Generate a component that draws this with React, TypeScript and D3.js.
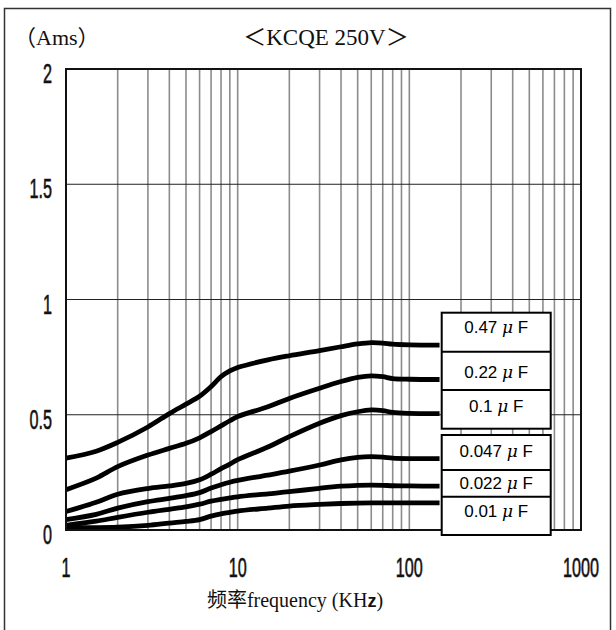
import React from 'react';
import * as d3 from 'd3';

// frequency points (kHz)
const freqs = [1, 1.5, 2, 3, 4, 5, 6, 7, 8, 9, 10, 15, 20, 30, 40, 50, 60, 70, 80, 100, 150];

// current (A rms) per capacitance
const cap047 = [0.312, 0.342, 0.38, 0.447, 0.505, 0.546, 0.58, 0.622, 0.665, 0.69, 0.705, 0.738, 0.756, 0.778, 0.795, 0.807, 0.813, 0.811, 0.806, 0.803, 0.802];
const cap022 = [0.175, 0.225, 0.275, 0.325, 0.354, 0.376, 0.4, 0.427, 0.452, 0.474, 0.492, 0.535, 0.571, 0.615, 0.644, 0.662, 0.669, 0.665, 0.657, 0.654, 0.653];
const cap01 = [0.08, 0.12, 0.155, 0.18, 0.191, 0.202, 0.218, 0.242, 0.266, 0.286, 0.305, 0.36, 0.405, 0.463, 0.496, 0.513, 0.521, 0.518, 0.51, 0.506, 0.505];
const cap0047 = [0.045, 0.068, 0.095, 0.123, 0.137, 0.149, 0.162, 0.182, 0.196, 0.207, 0.215, 0.238, 0.255, 0.282, 0.304, 0.315, 0.318, 0.316, 0.312, 0.31, 0.31];
const cap0022 = [0.02, 0.038, 0.055, 0.077, 0.09, 0.1, 0.112, 0.125, 0.133, 0.139, 0.144, 0.157, 0.166, 0.181, 0.19, 0.194, 0.195, 0.194, 0.192, 0.191, 0.19];
const cap001 = [0.01, 0.01, 0.012, 0.02, 0.03, 0.037, 0.045, 0.06, 0.07, 0.076, 0.082, 0.095, 0.104, 0.111, 0.115, 0.117, 0.118, 0.118, 0.118, 0.118, 0.118];

const seriesValues = [cap047, cap022, cap01, cap0047, cap0022, cap001];
const seriesLabels = ['0.47', '0.22', '0.1', '0.047', '0.022', '0.01'];

const yTicks = [0, 0.5, 1, 1.5, 2];
const xTicks = [1, 10, 100, 1000];

const W = 616;
const H = 630;

export default function App() {
  const left = 66, right = 581, top = 69, bottom = 530;
  const x = d3.scaleLog().domain([1, 1000]).range([left, right]);
  const y = d3.scaleLinear().domain([0, 2]).range([bottom, top]);

  // minor log gridlines 2..10 in each decade
  const vLines: number[] = [];
  [1, 10, 100].forEach(d => {
    for (let k = 2; k <= 10; k++) vLines.push(k * d);
  });

  const line = d3.line<number>()
    .x((_, i) => x(freqs[i]))
    .y(d => y(d))
    .curve(d3.curveCatmullRom.alpha(0.5));

  // legend box layout
  const boxX = 441.7, boxW = 109;
  const groups = [
    { rows: [312.7, 351.7, 390, 428.7], base: [333, 378, 411.5] },
    { rows: [435, 470, 496.7, 535], base: [456.5, 489, 516.5] },
  ];

  const serif = "'Liberation Serif', 'Noto Sans CJK SC', serif";
  const sans = "'Liberation Sans', Arial, sans-serif";

  let labelIdx = 0;

  return (
    <svg width={W} height={H} style={{ position: 'absolute', left: 0, top: 0, background: '#fff' }}>
      <rect x={0} y={0} width={W} height={H} fill="#fff" />
      {/* outer frame */}
      <rect x={4.5} y={8.5} width={606} height={640} fill="none" stroke="#333" strokeWidth={1.5} />

      {/* vertical gridlines */}
      {vLines.map(f => (
        <line key={f} x1={x(f)} x2={x(f)} y1={top} y2={bottom} stroke="#8c8c8c" strokeWidth={1.6} />
      ))}
      {/* horizontal gridlines */}
      {yTicks.slice(1, -1).map(v => (
        <line key={v} x1={left} x2={right} y1={y(v)} y2={y(v)} stroke="#222" strokeWidth={1} />
      ))}

      {/* curves */}
      {seriesValues.map((vals, i) => (
        <path key={i} d={line(vals) || ''} fill="none" stroke="#000" strokeWidth={4.8} strokeLinejoin="round" />
      ))}

      {/* plot border */}
      <rect x={left} y={top} width={right - left} height={bottom - top} fill="none" stroke="#111" strokeWidth={2} />

      {/* legend boxes */}
      {groups.map((g, gi) => (
        <g key={gi}>
          <rect x={boxX} y={g.rows[0]} width={boxW} height={g.rows[3] - g.rows[0]} fill="#fff" stroke="#000" strokeWidth={2} />
          {g.rows.slice(1, 3).map(r => (
            <line key={r} x1={boxX} x2={boxX + boxW} y1={r} y2={r} stroke="#000" strokeWidth={2} />
          ))}
          {g.base.map(b => {
            const lbl = seriesLabels[labelIdx++];
            return (
              <text key={b} x={boxX + boxW / 2} y={b} textAnchor="middle" fontFamily={sans} fontSize={17} fill="#000">
                {lbl + ' '}
                <tspan fontStyle="italic" fontFamily="'DejaVu Serif', serif">μ</tspan>
                {' F'}
              </text>
            );
          })}
        </g>
      ))}

      {/* y tick labels (condensed) */}
      {yTicks.map(v => (
        <g key={v} transform={`translate(52,${y(v) + 14}) scale(0.6,1)`}>
          <text textAnchor="end" fontFamily={sans} fontSize={27} fill="#111" stroke="#111" strokeWidth={0.6}>{String(v)}</text>
        </g>
      ))}
      {/* x tick labels */}
      {xTicks.map(v => (
        <g key={v} transform={`translate(${x(v)},577) scale(0.6,1)`}>
          <text textAnchor="middle" fontFamily={sans} fontSize={27} fill="#111" stroke="#111" strokeWidth={0.6}>{String(v)}</text>
        </g>
      ))}

      {/* titles */}
      <text x={14} y={45} fontFamily={serif} fontSize={22} fill="#111">（Ams）</text>
      <text x={326} y={45} textAnchor="middle" fontFamily={serif} fontSize={23} fill="#111">＜KCQE 250V＞</text>
      <text x={295} y={607} textAnchor="middle" fontFamily={serif} fontSize={20} fill="#111">
        频率frequency (KH<tspan fontFamily={sans} fontWeight="bold" fontSize={18}>z</tspan>)
      </text>
    </svg>
  );
}
